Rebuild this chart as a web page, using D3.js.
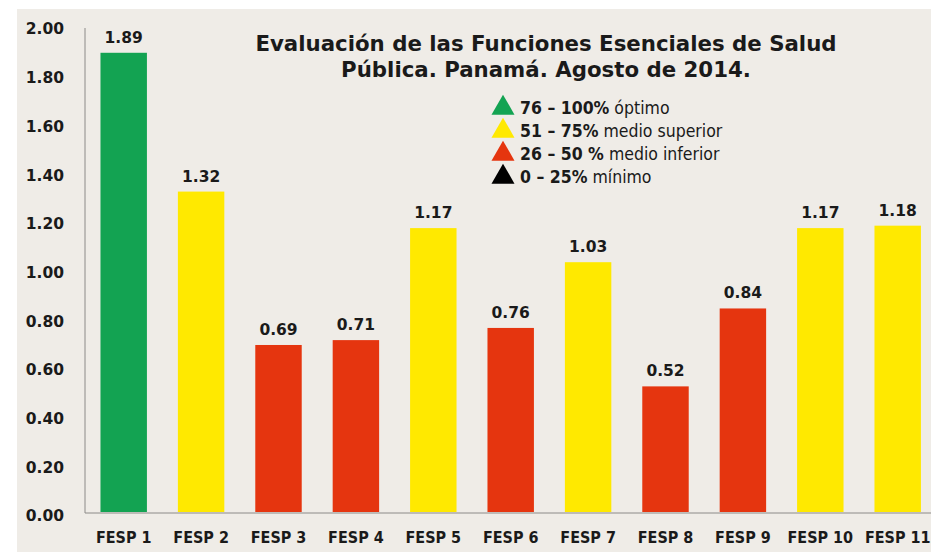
<!DOCTYPE html>
<html>
<head>
<meta charset="utf-8">
<script src="https://cdn.jsdelivr.net/npm/d3@7"></script>
<style>
  body { margin: 0; background: #fff; }
  svg { display: block; }
</style>
</head>
<body>
<svg id="chart"></svg>
<script>
// data
const categories = ['FESP 1','FESP 2','FESP 3','FESP 4','FESP 5','FESP 6','FESP 7','FESP 8','FESP 9','FESP 10','FESP 11'];
const values = [1.89, 1.32, 0.69, 0.71, 1.17, 0.76, 1.03, 0.52, 0.84, 1.17, 1.18];
const levels = ['optimo','superior','inferior','inferior','superior','inferior','superior','inferior','inferior','superior','superior'];
const yTicks = [0, 0.2, 0.4, 0.6, 0.8, 1.0, 1.2, 1.4, 1.6, 1.8, 2.0];
const titleLines = ['Evaluación de las Funciones Esenciales de Salud', 'Pública. Panamá. Agosto de 2014.'];
const legendBold = ['76 – 100%', '51 – 75%', '26 – 50 %', '0 – 25%'];
const legendText = [' óptimo', ' medio superior', ' medio inferior', ' mínimo'];
const legendKeys = ['optimo', 'superior', 'inferior', 'minimo'];

const colors = {optimo: '#13a352', superior: '#ffe900', inferior: '#e5350f', minimo: '#000000'};

const W = 931, H = 552;
const margin = {top: 26, left: 85, bottom: 39};
const condensed = "'DejaVu Sans Condensed', 'DejaVu Sans', sans-serif";

const svg = d3.select('#chart').attr('width', W).attr('height', H);

// beige panel
svg.append('rect')
  .attr('x', 17).attr('y', 9)
  .attr('width', W - 17).attr('height', H - 9)
  .attr('fill', '#efece7');

const x = d3.scaleBand()
  .domain(categories)
  .range([margin.left, margin.left + 11 * 77.4])
  .paddingInner(0.4)
  .paddingOuter(0.2);

const y = d3.scaleLinear()
  .domain([0, 2])
  .range([H - margin.bottom, margin.top]);

// axis lines
svg.append('line')
  .attr('x1', margin.left).attr('x2', margin.left)
  .attr('y1', y(2) + 2).attr('y2', y(0))
  .attr('stroke', '#8c8a88').attr('stroke-width', 1);
svg.append('line')
  .attr('x1', margin.left).attr('x2', W)
  .attr('y1', y(0)).attr('y2', y(0))
  .attr('stroke', '#8c8a88').attr('stroke-width', 1);

// y tick labels
const yAxis = d3.axisLeft(y)
  .tickValues(yTicks)
  .tickFormat(d3.format('.2f'))
  .tickSize(0)
  .tickPadding(21);
const yAxisG = svg.append('g')
  .attr('transform', `translate(${margin.left},3)`)
  .call(yAxis);
yAxisG.select('.domain').remove();
yAxisG.selectAll('text')
  .attr('font-family', 'DejaVu Sans')
  .attr('font-weight', 'bold')
  .attr('font-size', 15.5)
  .attr('fill', '#1a1a1a');

// bars
svg.selectAll('.bar')
  .data(values)
  .enter().append('rect')
  .attr('class', 'bar')
  .attr('x', (d, i) => x(categories[i]))
  .attr('width', x.bandwidth())
  .attr('y', d => y(d))
  .attr('height', d => y(0) - y(d) - 1)
  .attr('fill', (d, i) => colors[levels[i]]);

// value labels
svg.selectAll('.val')
  .data(values)
  .enter().append('text')
  .attr('class', 'val')
  .attr('x', (d, i) => x(categories[i]) + x.bandwidth() / 2)
  .attr('y', d => y(d) - 10)
  .attr('text-anchor', 'middle')
  .attr('font-family', 'DejaVu Sans')
  .attr('font-weight', 'bold')
  .attr('font-size', 15.5)
  .attr('fill', '#1a1a1a')
  .text(d => d3.format('.2f')(d));

// category labels
const xAxis = d3.axisBottom(x).tickSize(0).tickPadding(19);
const xAxisG = svg.append('g')
  .attr('transform', `translate(0,${y(0)})`)
  .call(xAxis);
xAxisG.select('.domain').remove();
xAxisG.selectAll('text')
  .attr('font-family', condensed)
  .attr('font-weight', 'bold')
  .attr('font-size', 16)
  .attr('fill', '#1a1a1a');

// title
svg.append('text')
  .attr('x', 546).attr('y', 51)
  .attr('text-anchor', 'middle')
  .attr('font-family', 'DejaVu Sans')
  .attr('font-weight', 'bold')
  .attr('font-size', 21.3)
  .attr('fill', '#1a1a1a')
  .selectAll('tspan')
  .data(titleLines)
  .enter().append('tspan')
  .attr('x', 546)
  .attr('dy', (d, i) => i ? 26 : 0)
  .text(d => d);

// legend
const legend = svg.append('g').attr('transform', 'translate(491,107)');
const rows = legend.selectAll('g')
  .data(legendKeys)
  .enter().append('g')
  .attr('transform', (d, i) => `translate(0,${i * 23})`);
rows.append('path')
  .attr('d', d3.symbol(d3.symbolTriangle, 230))
  .attr('transform', 'translate(12,1)')
  .attr('fill', d => colors[d]);
const lt = rows.append('text')
  .attr('x', 29).attr('y', 6.5)
  .attr('font-family', condensed)
  .attr('font-size', 17.5)
  .attr('fill', '#1a1a1a');
lt.append('tspan').attr('font-weight', 'bold').text((d, i) => legendBold[i]);
lt.append('tspan').text((d, i) => legendText[i]);
</script>
</body>
</html>
